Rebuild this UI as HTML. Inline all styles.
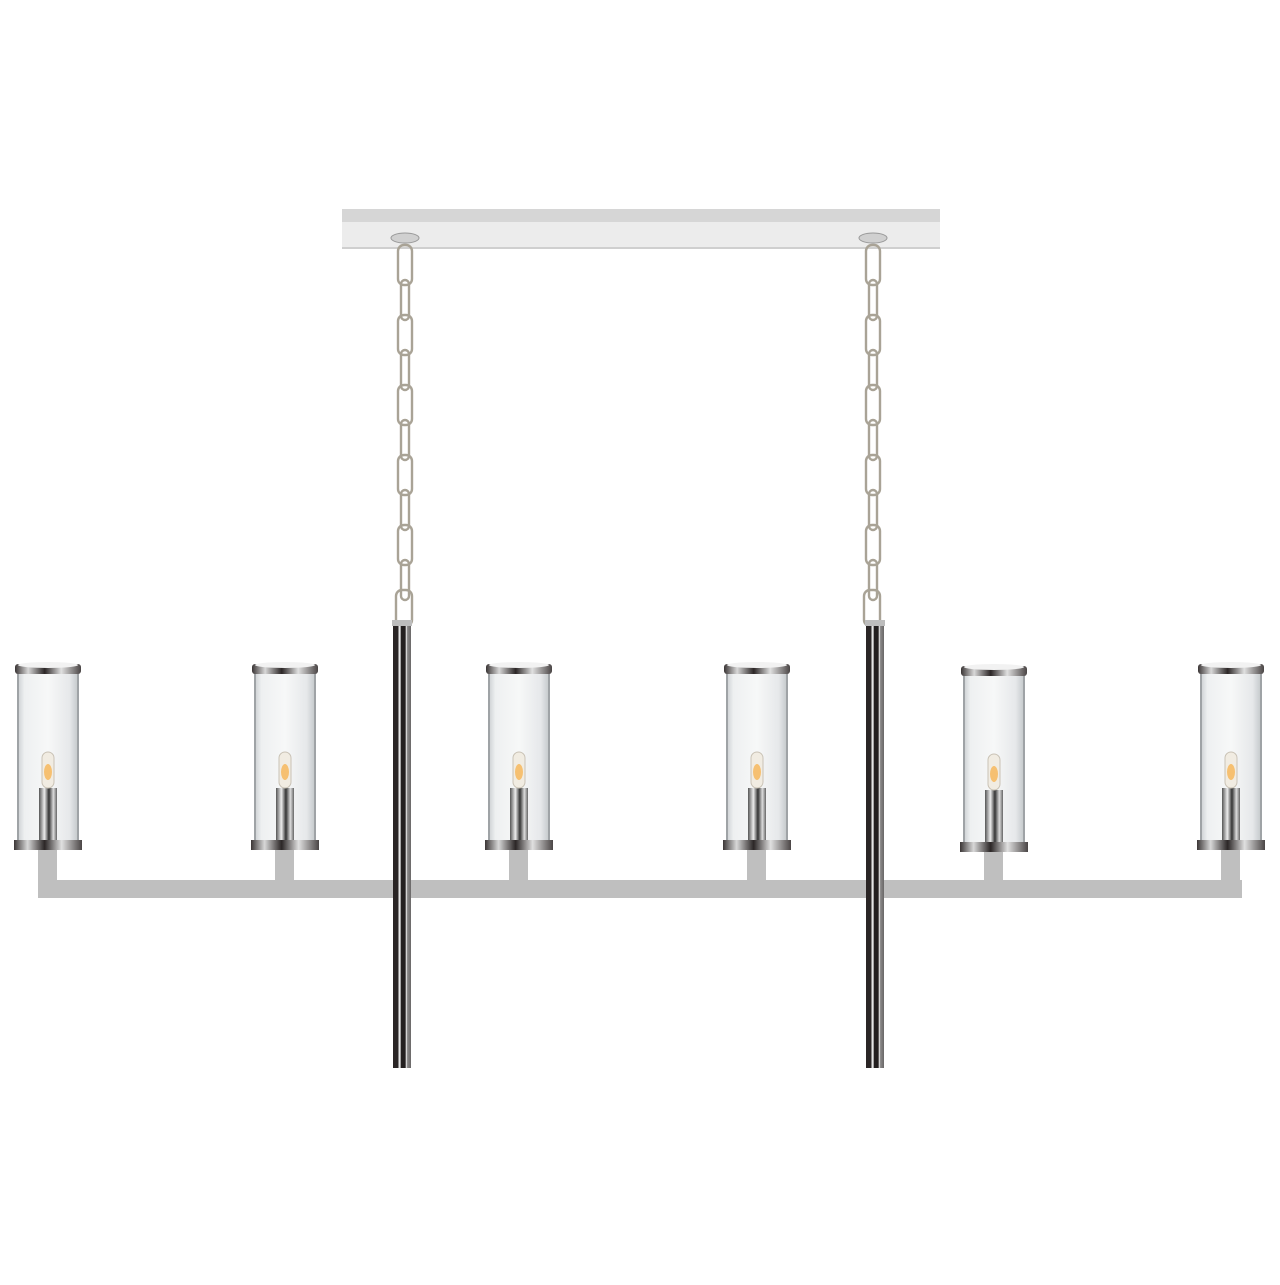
<!DOCTYPE html>
<html><head><style>html,body{margin:0;padding:0;background:#fff}</style></head>
<body>
<svg width="1280" height="1280" viewBox="0 0 1280 1280" xmlns="http://www.w3.org/2000/svg">
<defs>
<linearGradient id="glass" x1="0" x2="1">
<stop offset="0" stop-color="#c8cccf"/><stop offset="0.12" stop-color="#eef0f1"/><stop offset="0.5" stop-color="#f7f8f8"/><stop offset="0.85" stop-color="#e6e8ea"/><stop offset="1" stop-color="#c0c4c7"/>
</linearGradient>
<linearGradient id="ring" x1="0" x2="1">
<stop offset="0" stop-color="#3a3535"/><stop offset="0.2" stop-color="#d8d8d8"/><stop offset="0.45" stop-color="#2b2626"/><stop offset="0.7" stop-color="#e0e0e0"/><stop offset="1" stop-color="#4a4545"/>
</linearGradient>
<linearGradient id="rod" x1="0" x2="1">
<stop offset="0" stop-color="#2a2525"/><stop offset="0.28" stop-color="#2a2525"/><stop offset="0.33" stop-color="#e6e6e6"/><stop offset="0.4" stop-color="#e6e6e6"/><stop offset="0.45" stop-color="#231f1f"/><stop offset="0.68" stop-color="#231f1f"/><stop offset="0.73" stop-color="#f0f0f0"/><stop offset="0.8" stop-color="#8a8888"/><stop offset="1" stop-color="#6a6767"/>
</linearGradient>
<linearGradient id="sock" x1="0" x2="1">
<stop offset="0" stop-color="#555"/><stop offset="0.3" stop-color="#eee"/><stop offset="0.55" stop-color="#333"/><stop offset="0.8" stop-color="#ddd"/><stop offset="1" stop-color="#666"/>
</linearGradient>
<g id="lamp">
<rect x="-31" y="0" width="62" height="176" fill="url(#glass)"/>
<rect x="-31" y="0" width="2" height="176" fill="#9fa3a6"/>
<rect x="29" y="0" width="2" height="176" fill="#9fa3a6"/>
<rect x="-33" y="-2" width="66" height="10" rx="3" fill="url(#ring)"/>
<ellipse cx="0" cy="-1" rx="30" ry="3" fill="#f2f2f2"/>
<rect x="-9" y="122" width="18" height="52" fill="url(#sock)"/>
<rect x="-6" y="86" width="12" height="36" rx="6" fill="#f1ece2" stroke="#c9c2b5"/>
<ellipse cx="0" cy="106" rx="4" ry="8" fill="#f6c071"/>
<rect x="-34" y="174" width="68" height="10" fill="url(#ring)"/>
<rect x="-10" y="184" width="19" height="30" fill="#bfbfbf"/>
</g>
<g id="chain" fill="none" stroke="#b9b4a6" stroke-width="2.2">
</g>
</defs>
<!-- canopy -->
<polygon points="342,209 940,209 940,222 342,222" fill="#d6d6d6"/>
<rect x="342" y="222" width="598" height="26" fill="#ececec"/>
<rect x="342" y="247" width="598" height="2" fill="#cfcfcf"/>
<ellipse cx="405" cy="238" rx="14" ry="5" fill="#d0d0d0" stroke="#999"/>
<ellipse cx="873" cy="238" rx="14" ry="5" fill="#d0d0d0" stroke="#999"/>
<!-- bar -->
<rect x="38" y="880" width="1204" height="18" fill="#bfbfbf"/>
<!-- chains -->
<g fill="none" stroke="#a9a396" stroke-width="2.4">
<rect x="398" y="245" width="14" height="40" rx="6"/>
<rect x="401" y="280" width="8" height="40" rx="4"/>
<rect x="398" y="315" width="14" height="40" rx="6"/>
<rect x="401" y="350" width="8" height="40" rx="4"/>
<rect x="398" y="385" width="14" height="40" rx="6"/>
<rect x="401" y="420" width="8" height="40" rx="4"/>
<rect x="398" y="455" width="14" height="40" rx="6"/>
<rect x="401" y="490" width="8" height="40" rx="4"/>
<rect x="398" y="525" width="14" height="40" rx="6"/>
<rect x="401" y="560" width="8" height="40" rx="4"/>
<rect x="396" y="590" width="16" height="36" rx="6"/>
<rect x="866" y="245" width="14" height="40" rx="6"/>
<rect x="869" y="280" width="8" height="40" rx="4"/>
<rect x="866" y="315" width="14" height="40" rx="6"/>
<rect x="869" y="350" width="8" height="40" rx="4"/>
<rect x="866" y="385" width="14" height="40" rx="6"/>
<rect x="869" y="420" width="8" height="40" rx="4"/>
<rect x="866" y="455" width="14" height="40" rx="6"/>
<rect x="869" y="490" width="8" height="40" rx="4"/>
<rect x="866" y="525" width="14" height="40" rx="6"/>
<rect x="869" y="560" width="8" height="40" rx="4"/>
<rect x="864" y="590" width="16" height="36" rx="6"/>
</g>
<!-- rods -->
<rect x="393" y="622" width="18" height="446" fill="url(#rod)"/>
<rect x="866" y="622" width="18" height="446" fill="url(#rod)"/>
<rect x="392" y="620" width="20" height="6" fill="#bdbdbd"/>
<rect x="865" y="620" width="20" height="6" fill="#bdbdbd"/>
<!-- lamps -->
<use href="#lamp" x="48" y="666"/>
<use href="#lamp" x="285" y="666"/>
<use href="#lamp" x="519" y="666"/>
<use href="#lamp" x="757" y="666"/>
<use href="#lamp" x="994" y="668"/>
<use href="#lamp" x="1231" y="666"/>
</svg>
</body></html>
